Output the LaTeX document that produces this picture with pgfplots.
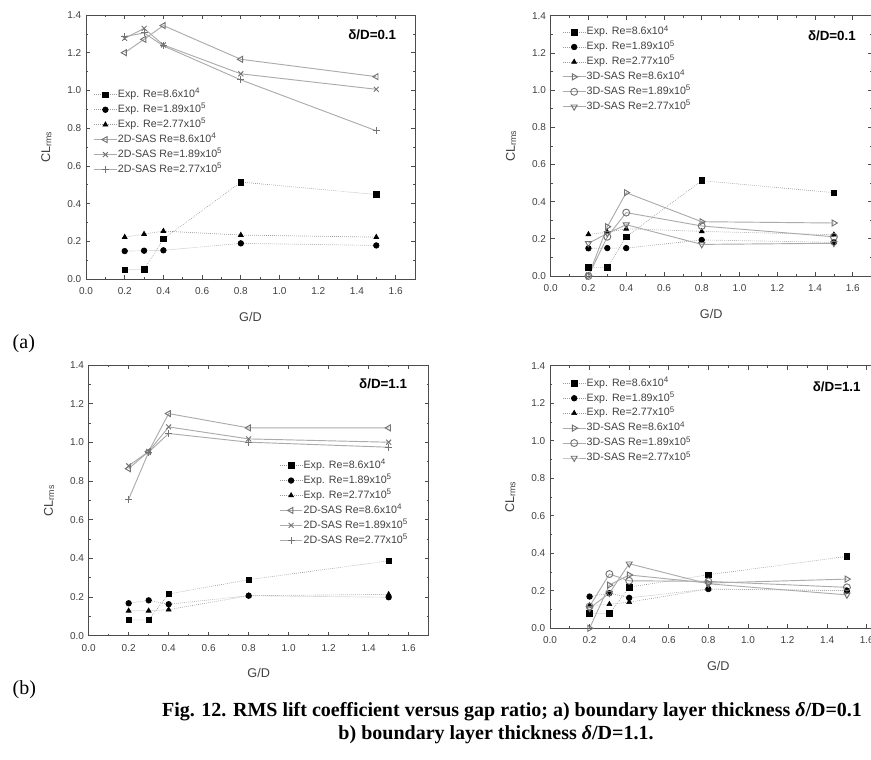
\documentclass[border=0pt]{standalone}
\usepackage{fontspec}
\setmainfont{Liberation Sans}
\newfontfamily\timesfont{Liberation Serif}
\usepackage{pgfplots}
\pgfplotsset{compat=1.18}

\pgfplotsset{
  panel/.style={
    scale only axis, xmin=0, xmax=1.7, ymin=0, ymax=1.4,
    xtick={0,0.2,...,1.6}, ytick={0,0.2,...,1.4},
    minor tick num=1, tick align=inside,
    major tick length=3pt, minor tick length=1.6pt,
    axis line style={black!70, line width=0.6pt},
    every tick/.style={black!70, line width=0.5pt},
    tick label style={font=\fontsize{7.5}{8}\selectfont, text=black!75},
    xticklabel shift=3pt,
    /pgf/number format/fixed, /pgf/number format/fixed zerofill,
    /pgf/number format/precision=1, /pgf/number format/assume math mode=true,
    label style={font=\fontsize{9.5}{10}\selectfont, text=black!75},
    xlabel={G/D}, ylabel={CL\textsubscript{rms}},
    ylabel shift=5pt, xlabel shift=6pt,
    clip=false,
    legend cell align=left,
    legend style={draw=none, fill=none, anchor=north west,
      font=\fontsize{8}{9}\selectfont, text=black!75, row sep=2.8pt,
      nodes={inner sep=0.5pt, text height=5.8pt, text depth=1.6pt}},
  },
  exp/.style={densely dotted, black!40, line width=0.5pt, mark size=2.1pt,
    mark options={solid, fill=black, draw=black}},
  sas/.style={solid, black!33, line width=0.7pt, mark size=2.6pt,
    mark options={solid, draw=black!55, fill=white}},
}
\tikzset{tag/.style={font=\bfseries\fontsize{10}{11}\selectfont}}

\begin{document}
\begin{tikzpicture}
\useasboundingbox (0,0) rectangle (653.25pt,570pt);

% (a) delta/D = 0.1, 2D-SAS
\begin{axis}[panel, at={(64.5pt,360.75pt)}, anchor=south west,
  width=246.75pt, height=198pt, legend style={at={(rel axis cs:0.01,0.73)}}]
\addplot[exp, mark=square*] coordinates {(0.2,0.049) (0.3,0.050) (0.4,0.212) (0.8,0.514) (1.5,0.448)};
\addplot[exp, mark=*] coordinates {(0.2,0.148) (0.3,0.150) (0.4,0.152) (0.8,0.189) (1.5,0.178)};
\addplot[exp, mark=triangle*] coordinates {(0.2,0.222) (0.3,0.238) (0.4,0.254) (0.8,0.233) (1.5,0.222)};
\addplot[sas, mark=triangle, every mark/.append style={rotate=90}] coordinates {(0.2,1.200) (0.3,1.271) (0.4,1.344) (0.8,1.165) (1.5,1.073)};
\addplot[sas, mark=x] coordinates {(0.2,1.276) (0.3,1.329) (0.4,1.241) (0.8,1.088) (1.5,1.006)};
\addplot[sas, mark=+] coordinates {(0.2,1.285) (0.3,1.305) (0.4,1.236) (0.8,1.056) (1.5,0.786)};
\legend{Exp. Re=8.6x10\textsuperscript{4}, Exp. Re=1.89x10\textsuperscript{5}, Exp. Re=2.77x10\textsuperscript{5},
  2D-SAS Re=8.6x10\textsuperscript{4}, 2D-SAS Re=1.89x10\textsuperscript{5}, 2D-SAS Re=2.77x10\textsuperscript{5}}
\node[tag] at (rel axis cs:0.87,0.924) {δ/D=0.1};
\end{axis}

% (a) delta/D = 0.1, 3D-SAS
\begin{axis}[panel, at={(413pt,363pt)}, anchor=south west,
  width=240.75pt, height=195.2pt, legend style={at={(rel axis cs:0.023,0.97)}}]
\addplot[exp, mark=square*] coordinates {(0.2,0.045) (0.3,0.045) (0.4,0.211) (0.8,0.513) (1.5,0.448)};
\addplot[exp, mark=*] coordinates {(0.2,0.149) (0.3,0.150) (0.4,0.150) (0.8,0.194) (1.5,0.181)};
\addplot[exp, mark=triangle*] coordinates {(0.2,0.224) (0.3,0.235) (0.4,0.254) (0.8,0.240) (1.5,0.222)};
\addplot[sas, mark=triangle, every mark/.append style={rotate=-90}] coordinates {(0.2,0.000) (0.3,0.265) (0.4,0.448) (0.8,0.292) (1.5,0.285)};
\addplot[sas, mark=o] coordinates {(0.2,0.000) (0.3,0.211) (0.4,0.341) (0.8,0.269) (1.5,0.211)};
\addplot[sas, mark=triangle, every mark/.append style={rotate=180}] coordinates {(0.2,0.176) (0.3,0.229) (0.4,0.276) (0.8,0.170) (1.5,0.176)};
\legend{Exp. Re=8.6x10\textsuperscript{4}, Exp. Re=1.89x10\textsuperscript{5}, Exp. Re=2.77x10\textsuperscript{5},
  3D-SAS Re=8.6x10\textsuperscript{4}, 3D-SAS Re=1.89x10\textsuperscript{5}, 3D-SAS Re=2.77x10\textsuperscript{5}}
\node[tag] at (rel axis cs:0.876,0.923) {δ/D=0.1};
\end{axis}

% (b) delta/D = 1.1, 2D-SAS
\begin{axis}[panel, at={(66.5pt,93.2pt)}, anchor=south west,
  width=255pt, height=203pt, legend style={at={(rel axis cs:0.548,0.66)}}]
\addplot[exp, mark=square*] coordinates {(0.2,0.082) (0.3,0.082) (0.4,0.216) (0.8,0.290) (1.5,0.387)};
\addplot[exp, mark=*] coordinates {(0.2,0.168) (0.3,0.183) (0.4,0.163) (0.8,0.207) (1.5,0.199)};
\addplot[exp, mark=triangle*] coordinates {(0.2,0.129) (0.3,0.129) (0.4,0.135) (0.8,0.207) (1.5,0.214)};
\addplot[sas, mark=triangle, every mark/.append style={rotate=90}] coordinates {(0.2,0.864) (0.3,0.953) (0.4,1.149) (0.8,1.075) (1.5,1.075)};
\addplot[sas, mark=x] coordinates {(0.2,0.879) (0.3,0.953) (0.4,1.080) (0.8,1.018) (1.5,1.001)};
\addplot[sas, mark=+] coordinates {(0.2,0.706) (0.3,0.950) (0.4,1.046) (0.8,1.001) (1.5,0.975)};
\legend{Exp. Re=8.6x10\textsuperscript{4}, Exp. Re=1.89x10\textsuperscript{5}, Exp. Re=2.77x10\textsuperscript{5},
  2D-SAS Re=8.6x10\textsuperscript{4}, 2D-SAS Re=1.89x10\textsuperscript{5}, 2D-SAS Re=2.77x10\textsuperscript{5}}
\node[tag] at (rel axis cs:0.866,0.93) {δ/D=1.1};
\end{axis}

% (b) delta/D = 1.1, 3D-SAS
\begin{axis}[panel, at={(412.5pt,98.8pt)}, anchor=south west,
  width=252.4pt, height=197pt, legend style={at={(rel axis cs:0.024,0.965)}}]
\addplot[exp, mark=square*] coordinates {(0.2,0.078) (0.3,0.078) (0.4,0.219) (0.8,0.285) (1.5,0.383)};
\addplot[exp, mark=*] coordinates {(0.2,0.169) (0.3,0.187) (0.4,0.162) (0.8,0.209) (1.5,0.200)};
\addplot[exp, mark=triangle*] coordinates {(0.2,0.121) (0.3,0.128) (0.4,0.139) (0.8,0.209) (1.5,0.201)};
\addplot[sas, mark=triangle, every mark/.append style={rotate=-90}] coordinates {(0.2,0.000) (0.3,0.230) (0.4,0.284) (0.8,0.241) (1.5,0.262)};
\addplot[sas, mark=o] coordinates {(0.2,0.116) (0.3,0.289) (0.4,0.253) (0.8,0.250) (1.5,0.218)};
\addplot[sas, mark=triangle, every mark/.append style={rotate=180}] coordinates {(0.2,0.107) (0.3,0.187) (0.4,0.344) (0.8,0.237) (1.5,0.178)};
\legend{Exp. Re=8.6x10\textsuperscript{4}, Exp. Re=1.89x10\textsuperscript{5}, Exp. Re=2.77x10\textsuperscript{5},
  3D-SAS Re=8.6x10\textsuperscript{4}, 3D-SAS Re=1.89x10\textsuperscript{5}, 3D-SAS Re=2.77x10\textsuperscript{5}}
\node[tag] at (rel axis cs:0.852,0.92) {δ/D=1.1};
\end{axis}

\node[anchor=west, font=\timesfont\fontsize{15}{17}\selectfont] at (6pt,312pt) {(a)};
\node[anchor=west, font=\timesfont\fontsize{15}{17}\selectfont] at (6pt,52.5pt) {(b)};
\node[font=\timesfont\bfseries\fontsize{15}{17}\selectfont] at (384pt,36pt)
  {Fig. 12. RMS lift coefficient versus gap ratio; a) boundary layer thickness {\itshape δ}/D=0.1};
\node[font=\timesfont\bfseries\fontsize{15}{17}\selectfont] at (372pt,18.75pt)
  {b) boundary layer thickness {\itshape δ}/D=1.1.};
\end{tikzpicture}
\end{document}
